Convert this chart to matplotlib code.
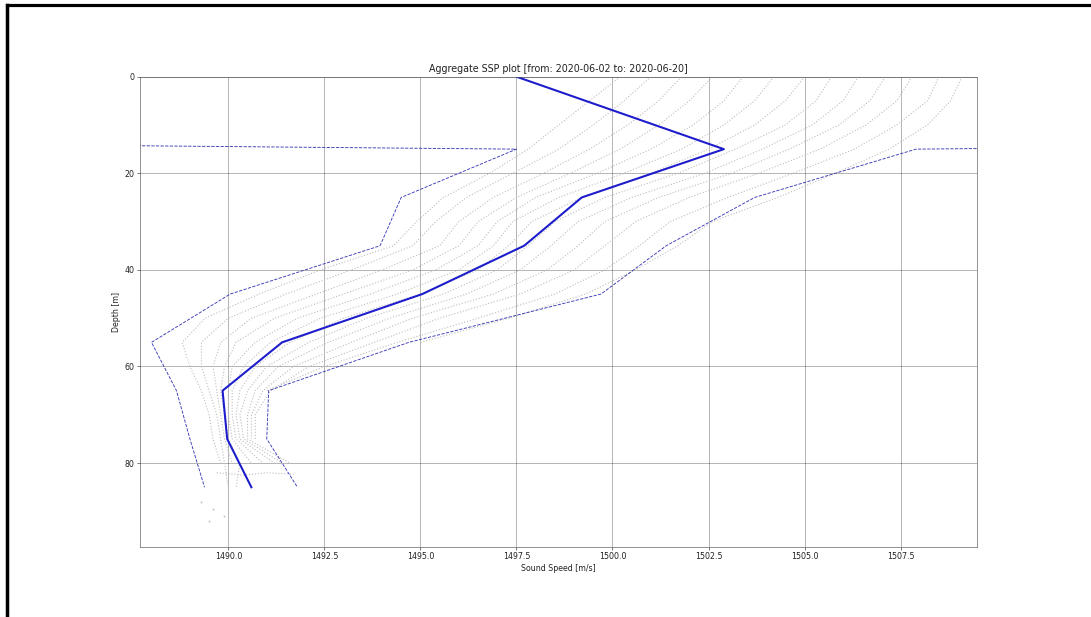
import numpy as np
import matplotlib
matplotlib.use("Agg")
import matplotlib.pyplot as plt
from matplotlib.lines import Line2D

nan = np.nan

# standard depth grid of the aggregated profile [m]
depths = [0, 15, 25, 35, 45, 55, 65, 75, 85]
ssp_mean = [1497.5, 1502.9, 1499.2, 1497.7, 1495.05, 1491.4, 1489.85, 1489.97, 1490.6]
ssp_low = [1287.5, 1497.5, 1494.5, 1493.95, 1490.05, 1488.0, 1488.65, 1489.0, 1489.38]
ssp_high = [1707.5, 1507.9, 1503.7, 1501.4, 1499.7, 1494.7, 1491.05, 1491.0, 1491.8]

# individual casts (sound speed read at 5 m steps)
cast_depths = [0, 5, 10, 15, 20, 25, 30, 35, 40, 45, 50, 55, 60, 65, 70, 75, 80, 85]
casts = [
    [1500.2, 1499.4, 1498.6, 1497.8, 1496.8, 1495.6, 1494.9, 1494.3, 1492.4, 1490.8, 1489.4, 1488.8, 1489.0, 1489.3, 1489.5, 1489.6, 1489.8, nan],
    [1501.0, 1500.3, 1499.5, 1498.6, 1497.4, 1496.2, 1495.4, 1494.8, 1493.2, 1491.5, 1490.0, 1489.3, 1489.3, 1489.5, 1489.7, 1489.8, 1489.9, 1490.0],
    [1501.8, 1501.2, 1500.4, 1499.4, 1498.2, 1496.9, 1496.0, 1495.5, 1494.0, 1492.3, 1490.6, 1489.8, 1489.6, 1489.7, 1489.8, 1489.9, 1490.1, nan],
    [1502.6, 1502.0, 1501.2, 1500.2, 1498.9, 1497.5, 1496.5, 1496.0, 1494.8, 1493.0, 1491.2, 1490.2, 1489.9, 1489.8, 1489.9, 1490.0, 1490.3, 1490.2],
    [1503.4, 1502.9, 1502.1, 1501.0, 1499.6, 1498.0, 1497.0, 1496.5, 1495.4, 1493.7, 1491.8, 1490.7, 1490.1, 1490.0, 1490.0, 1490.1, 1490.6, nan],
    [1504.2, 1503.7, 1502.9, 1501.8, 1500.3, 1498.6, 1497.4, 1496.9, 1496.0, 1494.4, 1492.4, 1491.1, 1490.4, 1490.1, 1490.1, 1490.2, 1490.9, nan],
    [1505.0, 1504.5, 1503.7, 1502.5, 1501.0, 1499.2, 1497.9, 1497.3, 1496.5, 1495.0, 1493.0, 1491.6, 1490.7, 1490.3, 1490.2, 1490.3, 1491.2, nan],
    [1505.7, 1505.3, 1504.5, 1503.2, 1501.7, 1499.8, 1498.5, 1497.8, 1497.0, 1495.6, 1493.6, 1492.1, 1491.0, 1490.5, 1490.3, 1490.4, 1491.4, nan],
    [1506.4, 1506.0, 1505.2, 1503.9, 1502.4, 1500.5, 1499.1, 1498.4, 1497.6, 1496.2, 1494.2, 1492.6, 1491.3, 1490.7, 1490.5, 1490.5, 1491.6, nan],
    [1507.1, 1506.7, 1505.9, 1504.6, 1503.1, 1501.2, 1499.8, 1499.1, 1498.3, 1496.9, 1494.8, 1493.2, 1491.7, 1490.9, 1490.6, 1490.6, nan, nan],
    [1507.8, 1507.4, 1506.6, 1505.4, 1503.8, 1502.0, 1500.6, 1499.8, 1499.0, 1497.6, 1495.5, 1493.8, 1492.1, 1491.1, 1490.7, 1490.7, nan, nan],
    [1508.5, 1508.2, 1507.4, 1506.3, 1504.7, 1503.0, 1501.5, 1500.7, 1499.8, 1498.5, 1496.5, 1494.4, 1492.5, 1491.0, nan, nan, nan, nan],
    [1509.1, 1508.8, 1508.2, 1507.2, 1505.8, 1504.3, 1502.6, 1501.7, 1500.6, 1499.3, 1497.3, 1495.0, nan, nan, nan, nan, nan, nan],
]
streak_speed = [1489.7, 1490.4, 1491.0, 1491.7]
streak_depth = [82.0, 82.5, 82.0, 82.3]
deep_speed = [1489.3, 1489.6, 1489.9, 1489.5]
deep_depth = [88.0, 89.5, 91.0, 92.0]

DPI = 57
fig, ax = plt.subplots(figsize=(1091 / DPI, 617 / DPI), dpi=DPI)
fig.subplots_adjust(left=0.1283, right=0.8952, top=0.8757, bottom=0.114)

for c in casts:
    ax.plot(c, cast_depths, ls=":", lw=1.4, color="#bdbdbd")
ax.plot(streak_speed, streak_depth, ls=":", lw=1.4, color="#bdbdbd")
ax.plot(deep_speed, deep_depth, ".", ms=2.5, color="#bdbdbd")

ax.plot(ssp_low, depths, "--", color="#3434b4", lw=1.1)
ax.plot(ssp_high, depths, "--", color="#3434b4", lw=1.1)
ax.plot(ssp_mean, depths, "-", color="#1c1ccc", lw=2.6)

ax.set_xlim(1487.7, 1509.48)
ax.set_ylim(97.3, 0)
ax.set_xticks([1490, 1492.5, 1495, 1497.5, 1500, 1502.5, 1505, 1507.5])
ax.set_xticklabels(["1490.0", "1492.5", "1495.0", "1497.5", "1500.0", "1502.5", "1505.0", "1507.5"])
ax.set_yticks([0, 20, 40, 60, 80])
ax.grid(True, color="k", lw=0.9, alpha=0.4)
for sp in ax.spines.values():
    sp.set_color("#555555")
ax.tick_params(colors="#333333", labelcolor="#222222")
ax.set_xlabel("Sound Speed [m/s]", color="#222222")
ax.set_ylabel("Depth [m]", color="#222222")
ax.set_title("Aggregate SSP plot [from: 2020-06-02 to: 2020-06-20]", color="#222222")

# screenshot frame at the left and top edge
yt = 1 - 4.5 / 617
xl = 6.5 / 1091
fig.add_artist(Line2D([xl, xl], [0, yt], transform=fig.transFigure, color="k", lw=4.4))
fig.add_artist(Line2D([xl, 1], [yt, yt], transform=fig.transFigure, color="k", lw=4.0))

fig.savefig("out.png", dpi=DPI)
